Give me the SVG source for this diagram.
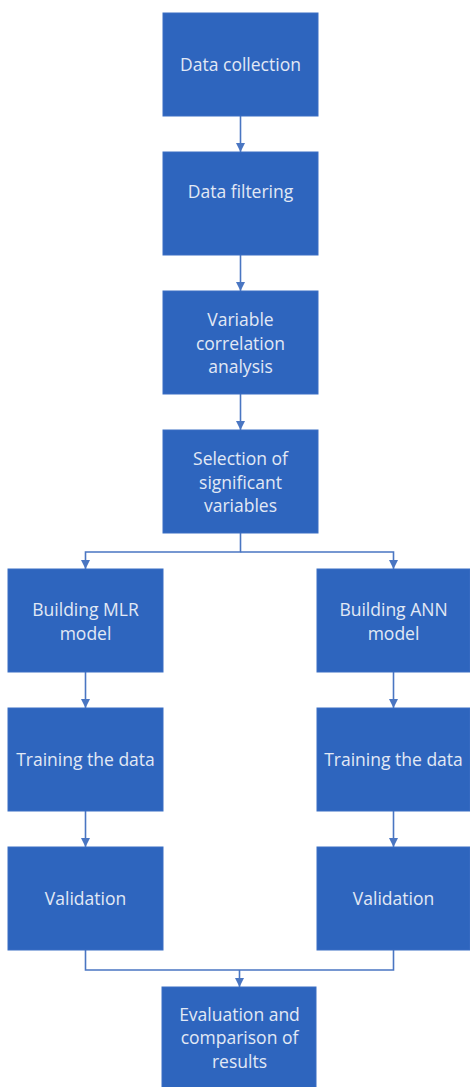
<svg xmlns="http://www.w3.org/2000/svg" width="470" height="1087" viewBox="0 0 470 1087">
<style>
.box{fill:#2E65BE;stroke:#3A6FC4;stroke-width:1}
.t{font-family:"Open Sans","Liberation Sans",sans-serif;font-size:17.5px;fill:#E2E9F5;text-anchor:middle}
.c{fill:none;stroke:#4A76C2;stroke-width:1.6}
</style>
<defs>
<marker id="ah" viewBox="0 0 10 10" refX="10" refY="5" markerWidth="9" markerHeight="9" markerUnits="userSpaceOnUse" orient="auto">
<path d="M0,0 L10,5 L0,10 Z" fill="#4A76C2"/>
</marker>
</defs>
<rect width="470" height="1087" fill="#ffffff"/>
<g id="connectors">
<line class="c" x1="240.5" y1="116" x2="240.5" y2="152" marker-end="url(#ah)"/>
<line class="c" x1="240.5" y1="255" x2="240.5" y2="291" marker-end="url(#ah)"/>
<line class="c" x1="240.5" y1="394" x2="240.5" y2="430" marker-end="url(#ah)"/>
<polyline class="c" points="240.5,533 240.5,552 85.5,552 85.5,569" marker-end="url(#ah)"/>
<polyline class="c" points="240.5,552 393.5,552 393.5,569" marker-end="url(#ah)"/>
<line class="c" x1="85.5" y1="672" x2="85.5" y2="708" marker-end="url(#ah)"/>
<line class="c" x1="393.5" y1="672" x2="393.5" y2="708" marker-end="url(#ah)"/>
<line class="c" x1="85.5" y1="811" x2="85.5" y2="847" marker-end="url(#ah)"/>
<line class="c" x1="393.5" y1="811" x2="393.5" y2="847" marker-end="url(#ah)"/>
<polyline class="c" points="85.5,950 85.5,970 393.5,970 393.5,950"/>
<line class="c" x1="239.5" y1="970" x2="239.5" y2="987" marker-end="url(#ah)"/>
</g>
<g id="n1"><rect class="box" x="163" y="13" width="155" height="103"/><text class="t" x="240.5" y="71">Data collection</text></g>
<g id="n2"><rect class="box" x="163" y="152" width="155" height="103"/><text class="t" x="240.5" y="198">Data filtering</text></g>
<g id="n3"><rect class="box" x="163" y="291" width="155" height="103"/><text class="t" x="240.5" y="326">Variable</text><text class="t" x="240.5" y="350">correlation</text><text class="t" x="240.5" y="373">analysis</text></g>
<g id="n4"><rect class="box" x="163" y="430" width="155" height="103"/><text class="t" x="240.5" y="465">Selection of</text><text class="t" x="240.5" y="489">significant</text><text class="t" x="240.5" y="512">variables</text></g>
<g id="n5"><rect class="box" x="8" y="569" width="155" height="103"/><text class="t" x="85.5" y="616">Building MLR</text><text class="t" x="85.5" y="640">model</text></g>
<g id="n6"><rect class="box" x="317" y="569" width="153" height="103"/><text class="t" x="393.5" y="616">Building ANN</text><text class="t" x="393.5" y="640">model</text></g>
<g id="n7"><rect class="box" x="8" y="708" width="155" height="103"/><text class="t" x="85.5" y="766">Training the data</text></g>
<g id="n8"><rect class="box" x="317" y="708" width="153" height="103"/><text class="t" x="393.5" y="766">Training the data</text></g>
<g id="n9"><rect class="box" x="8" y="847" width="155" height="103"/><text class="t" x="85.5" y="905">Validation</text></g>
<g id="n10"><rect class="box" x="317" y="847" width="153" height="103"/><text class="t" x="393.5" y="905">Validation</text></g>
<g id="n11"><rect class="box" x="162" y="987" width="154" height="103"/><text class="t" x="239.5" y="1021">Evaluation and</text><text class="t" x="239.5" y="1044">comparison of</text><text class="t" x="239.5" y="1068">results</text></g>
</svg>
